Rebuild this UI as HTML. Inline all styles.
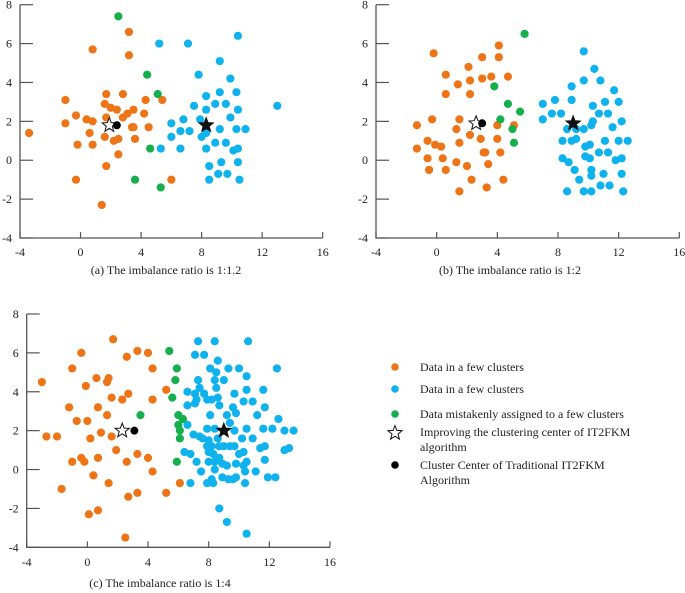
<!DOCTYPE html>
<html><head><meta charset="utf-8"><style>
body{margin:0;background:#fff;width:685px;height:593px;overflow:hidden;font-family:"Liberation Serif",serif}
svg{display:block}
text{font-family:"Liberation Serif",serif;fill:#222}
</style></head><body>
<svg id="chart" width="685" height="593" viewBox="0 0 685 593"></svg>
<script>
const xTicks=[-4,0,4,8,12,16];
const yTicks=[-4,-2,0,2,4,6,8];
const captions=["(a) The imbalance ratio is 1:1.2","(b) The imbalance ratio is 1:2","(c) The imbalance ratio is 1:4"];
const aOrange=[[-3.4,1.4],[-1.0,3.1],[-1.0,1.9],[-0.3,2.3],[-0.2,0.8],[-0.3,-1.0],[0.4,2.1],[0.6,1.4],[0.8,2.0],[0.8,0.8],[0.8,5.7],[1.7,3.4],[1.6,2.9],[1.7,2.2],[1.6,1.2],[1.7,-0.3],[1.4,-2.3],[2.0,2.7],[2.4,2.6],[2.2,1.0],[2.5,1.1],[2.5,0.3],[2.8,3.4],[2.8,2.2],[3.1,2.4],[3.5,2.6],[3.4,1.7],[3.5,1.7],[3.6,1.1],[3.2,6.6],[3.2,5.4],[4.2,2.4],[4.3,3.1],[4.5,1.7],[5.4,3.1],[6.0,-1.0]];
const aGreen=[[2.5,7.4],[4.4,4.4],[5.1,3.4],[4.6,0.6],[3.6,-1.0],[5.3,-1.4]];
const aBlue=[[5.2,6.0],[7.1,6.0],[10.4,6.4],[9.2,5.1],[7.8,4.4],[9.9,4.2],[9.2,3.5],[10.3,3.5],[8.3,3.3],[13.0,2.8],[7.5,2.8],[8.9,2.9],[9.6,2.9],[8.3,2.6],[10.4,2.6],[6.8,2.1],[7.9,2.1],[9.9,2.2],[6.0,1.9],[6.6,1.5],[7.2,1.5],[9.2,1.6],[10.3,1.6],[10.9,1.6],[6.0,1.2],[8.0,1.2],[8.3,1.4],[5.3,0.6],[6.6,0.6],[8.3,0.6],[8.9,0.9],[9.6,0.9],[10.1,0.5],[10.4,0.6],[8.5,-0.3],[9.3,-0.1],[10.4,-0.1],[8.5,-1.0],[9.1,-0.7],[9.7,-0.7],[10.5,-1.0]];
const aCenters={hollow:[1.9,1.8],dot:[2.4,1.8],star:[8.3,1.8]};
const bOrange=[[-0.2,5.5],[0.6,4.4],[0.6,3.4],[1.4,3.9],[2.1,4.8],[2.2,4.1],[2.2,3.4],[3.0,5.3],[3.0,4.2],[3.6,4.3],[4.1,5.9],[4.1,5.3],[4.7,4.3],[-1.3,1.8],[-1.3,0.6],[-0.3,2.1],[-0.6,1.0],[-0.1,0.8],[0.3,0.7],[-0.6,0.1],[0.4,0.1],[-0.5,-0.5],[0.6,-0.5],[1.5,2.1],[1.3,1.6],[1.5,0.9],[1.3,-0.1],[2.2,1.3],[2.9,1.1],[2.0,-0.3],[2.3,-1.0],[1.5,-1.6],[3.3,-1.4],[3.4,-0.2],[3.1,0.4],[3.2,0.4],[4.0,1.1],[4.2,0.4],[4.0,1.8],[5.1,1.8],[4.4,-1.0]];
const bGreen=[[5.8,6.5],[3.8,3.8],[4.7,2.9],[5.5,2.5],[4.2,2.1],[5.0,1.6],[5.1,0.9]];
const bBlue=[[9.7,5.6],[10.4,4.7],[9.7,4.1],[10.8,4.1],[8.9,3.8],[11.7,3.6],[7.8,3.1],[8.9,3.1],[7.0,2.9],[10.3,2.8],[11.1,3.0],[12.0,3.0],[7.6,2.4],[8.2,2.4],[10.7,2.4],[11.3,2.4],[7.0,2.1],[10.3,2.0],[12.2,2.0],[8.6,1.6],[9.2,1.6],[9.7,1.6],[10.2,1.8],[11.6,1.7],[8.3,1.0],[8.9,1.0],[9.2,1.1],[9.8,0.7],[10.1,0.8],[11.1,1.0],[12.0,1.0],[12.6,1.0],[8.3,0.1],[8.7,-0.1],[9.8,0.2],[10.1,0.1],[10.7,0.4],[11.3,0.4],[11.8,0.0],[12.2,0.1],[9.1,-0.5],[10.2,-0.5],[10.2,-0.8],[11.0,-0.7],[12.2,-0.7],[9.4,-1.0],[10.8,-1.3],[11.4,-1.3],[8.6,-1.6],[9.7,-1.6],[10.2,-1.6],[12.3,-1.6]];
const bCenters={hollow:[2.6,1.9],dot:[3.0,1.9],star:[9.0,1.9]};
const cOrange=[[-3.0,4.5],[-2.7,1.7],[-2.0,1.7],[-1.7,-1.0],[-1.0,5.2],[-1.2,3.2],[-0.7,2.5],[-1.0,0.4],[-0.4,6.0],[-0.1,4.3],[0.0,2.5],[0.2,1.6],[-0.4,0.6],[-0.2,0.4],[0.4,-0.3],[0.1,-2.3],[0.7,-2.1],[0.6,4.7],[0.7,3.2],[0.9,1.9],[0.7,0.6],[1.3,4.5],[1.4,4.7],[1.3,2.8],[1.6,3.7],[1.7,6.7],[1.6,1.7],[1.9,1.0],[1.4,-0.7],[2.3,3.6],[2.6,5.8],[2.7,3.9],[2.6,0.4],[2.7,-1.4],[2.5,-3.5],[3.3,6.1],[3.3,0.8],[3.3,-1.2],[4.0,6.0],[4.3,5.2],[4.3,3.6],[4.0,0.6],[4.3,-0.1],[5.2,4.1],[5.2,-1.2],[6.1,-0.7]];
const cGreen=[[5.4,6.1],[5.9,5.2],[5.8,4.6],[5.6,3.7],[3.5,2.8],[6.0,2.8],[6.3,2.6],[6.0,2.3],[6.1,2.0],[6.1,1.6],[5.9,0.4]];
const cBlue=[[7.3,6.6],[8.4,6.6],[10.6,6.6],[7.1,5.9],[7.7,5.9],[8.6,5.6],[8.1,5.2],[9.3,5.2],[10.0,5.2],[12.5,5.2],[8.5,5.0],[7.3,4.6],[8.4,4.6],[9.0,4.6],[10.5,4.8],[7.4,4.2],[8.5,4.2],[10.5,4.1],[11.6,4.1],[6.6,4.0],[7.1,3.9],[7.7,3.9],[9.7,3.9],[7.2,3.6],[7.9,3.6],[8.2,3.6],[8.6,3.7],[8.7,3.3],[10.3,3.5],[10.9,3.5],[6.6,3.3],[7.1,3.4],[9.6,3.2],[9.8,2.9],[11.7,3.2],[8.1,2.8],[9.2,2.8],[11.2,2.8],[12.6,2.6],[6.6,2.3],[9.4,2.4],[7.9,2.1],[8.4,2.1],[9.7,2.0],[10.5,2.1],[11.6,2.1],[12.2,2.1],[13.0,2.0],[13.6,2.0],[7.0,1.8],[7.4,1.7],[7.6,1.6],[8.0,1.5],[8.6,1.6],[7.9,1.2],[8.2,1.2],[8.7,1.2],[9.0,1.2],[9.4,1.2],[9.7,1.2],[10.2,1.6],[10.9,1.6],[11.4,1.1],[11.7,1.2],[13.0,1.0],[13.3,1.1],[6.4,0.9],[6.8,0.8],[8.0,0.9],[8.3,0.8],[8.7,0.6],[10.0,0.8],[10.3,0.9],[7.2,0.4],[8.0,0.4],[8.4,0.4],[8.9,0.3],[9.2,0.2],[9.8,0.3],[10.5,0.4],[11.7,0.5],[7.5,-0.1],[8.4,0.0],[10.3,0.2],[10.4,-0.1],[11.1,-0.1],[8.2,-0.5],[8.9,-0.4],[9.3,-0.5],[9.6,-0.5],[9.8,-0.4],[11.9,-0.4],[12.4,-0.4],[6.8,-0.7],[7.9,-0.7],[8.3,-0.7],[10.4,-0.7],[8.7,-2.0],[9.2,-2.7],[10.5,-3.3]];
const cCenters={hollow:[2.3,2.0],dot:[3.1,2.0],star:[9.0,2.0]};

const COL={orange:"#EE7418",blue:"#10B2EE",green:"#17AE4E"};
const NS="http://www.w3.org/2000/svg";
const svg=document.getElementById("chart");
function mk(tag,attrs,parent){const e=document.createElementNS(NS,tag);for(const k in attrs)e.setAttribute(k,attrs[k]);(parent||svg).appendChild(e);return e;}
function starPts(cx,cy,R,r){let p=[];for(let i=0;i<10;i++){const a=-Math.PI/2+i*Math.PI/5;const rr=i%2?r:R;p.push((cx+rr*Math.cos(a)).toFixed(1)+","+(cy+rr*Math.sin(a)).toFixed(1));}return p.join(" ");}

const panels=[
 {id:"a",x0:20,x1:322.7,y0:238,y1:4.7,orange:aOrange,blue:aBlue,green:aGreen,c:aCenters,cap:captions[0],capX:166,capY:274,tickY:256},
 {id:"b",x0:376,x1:679.3,y0:238,y1:4.7,orange:bOrange,blue:bBlue,green:bGreen,c:bCenters,cap:captions[1],capX:510,capY:274,tickY:256},
 {id:"c",x0:26.7,x1:330,y0:547.3,y1:314,orange:cOrange,blue:cBlue,green:cGreen,c:cCenters,cap:captions[2],capX:160,capY:587,tickY:566}
];
panels.forEach(p=>{
 const g=mk("g",{});
 
 
 const sx=v=>p.x0+(v+4)/20*(p.x1-p.x0);
 const sy=v=>p.y0-(v+4)/12*(p.y0-p.y1);
 const ax=mk("path",{d:`M${p.x0},${p.y1} L${p.x0},${p.y0} L${p.x1},${p.y0}`,fill:"none",stroke:"#555","stroke-width":1.3},g);
 
 
 yTicks.forEach(t=>{
  mk("line",{x1:p.x0,x2:p.x0+13,y1:sy(t),y2:sy(t),stroke:"#555","stroke-width":1.2},g);
  const tx=mk("text",{x:p.x0-8,y:sy(t)+4,"text-anchor":"end","font-size":12},g);tx.textContent=t;
  
  
 });
 xTicks.forEach(t=>{
  mk("line",{x1:sx(t),x2:sx(t),y1:p.y0,y2:p.y0-6,stroke:"#555","stroke-width":1.2},g);
  const tx=mk("text",{x:sx(t),y:p.tickY,"text-anchor":"middle","font-size":12},g);tx.textContent=t;
  
  
 });
 [["orange",p.orange],["blue",p.blue],["green",p.green]].forEach(([k,arr])=>{
  arr.forEach(d=>{
   const c=mk("circle",{cx:sx(d[0]),cy:sy(d[1]),r:4.1,fill:COL[k]},g);
   
   
  });
 });
 const h=mk("polygon",{points:starPts(sx(p.c.hollow[0]),sy(p.c.hollow[1]),7.5,3.2),fill:"#fff",stroke:"#111","stroke-width":1},g);
 
 
 const dt=mk("circle",{cx:sx(p.c.dot[0]),cy:sy(p.c.dot[1]),r:4,fill:"#000"},g);
 
 
 const bs=mk("polygon",{points:starPts(sx(p.c.star[0]),sy(p.c.star[1]),7.5,3.2),fill:"#111",stroke:"#111","stroke-width":1},g);
 
 
 const cap=mk("text",{x:p.capX,y:p.capY,"text-anchor":"middle","font-size":12},g);cap.textContent=p.cap;
 
 
});

// legend
const lg=mk("g",{});


const legendRows=[
 {t:"dot",c:COL.orange,y:367,lines:["Data in a few clusters"]},
 {t:"dot",c:COL.blue,y:389,lines:["Data in a few clusters"]},
 {t:"dot",c:COL.green,y:414,lines:["Data mistakenly assigned to a few clusters"]},
 {t:"star",c:"#fff",y:432,lines:["Improving the clustering center of IT2FKM","algorithm"]},
 {t:"dot",c:"#000",y:465,lines:["Cluster Center of Traditional IT2FKM","Algorithm"]}
];
legendRows.forEach(r=>{
 const e=mk("g",{},lg);
 
 
 if(r.t==="dot")mk("circle",{cx:395,cy:r.y,r:3.8,fill:r.c},e);
 else mk("polygon",{points:starPts(395,r.y+1,7.5,3.2),fill:"#fff",stroke:"#111","stroke-width":1},e);
 r.lines.forEach((l,i)=>{const t=mk("text",{x:420,y:r.y+4+i*15,"font-size":12},e);t.textContent=l;});
});
</script>
</body></html>
